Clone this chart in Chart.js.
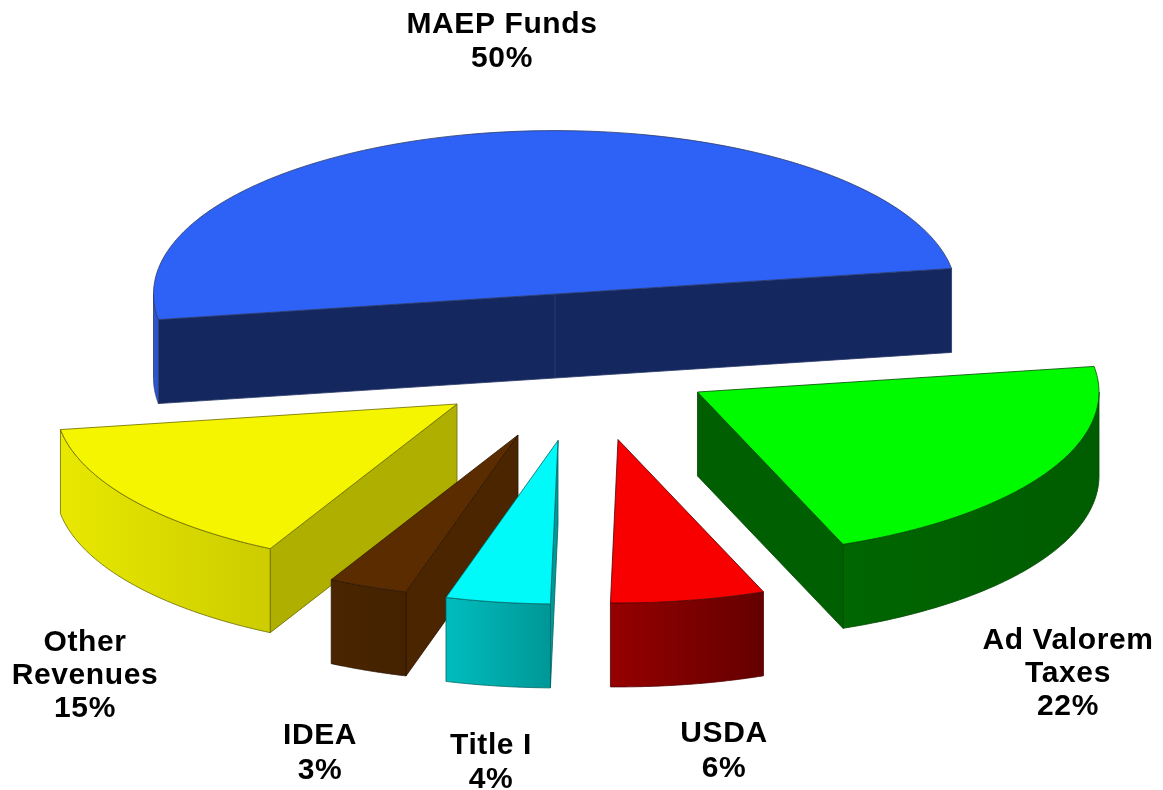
<!DOCTYPE html>
<html>
<head>
<meta charset="utf-8">
<title>Revenue sources</title>
<script src="https://cdn.jsdelivr.net/npm/chart.js@4"></script>
<style>
  html, body { margin: 0; padding: 0; background: #fff; }
  canvas { display: block; }
</style>
</head>
<body>
<canvas id="myChart" width="1163" height="790"></canvas>
<script>
// data
const categories = ["MAEP Funds", "Ad Valorem Taxes", "USDA", "Title I", "IDEA", "Other Revenues"];
const shares = [50, 21.6, 6.2, 4.2, 3.2, 14.8];
const shareLabels = ["50%", "22%", "6%", "4%", "3%", "15%"];

// styles, same order as the categories
const topColors = ["#2e62f6", "#00fb00", "#f90000", "#00f9f9", "#5b2c00", "#f5f500"];
const faceColors = ["#14275f", "#005f00", "#650000", "#009999", "#4a2500", "#afaf00"];
const rimFrom = ["#2a55cf", "#006600", "#960000", "#00bdbd", "#4a2500", "#e8e800"];
const rimTo = ["#2a55cf", "#005c00", "#640000", "#009797", "#442200", "#cccc00"];
const lineColors = ["#2a3a6a", "#004800", "#500000", "#006666", "#2a1500", "#6b6b00"];

// exploded layout: how far each slice is pulled from the middle of the pie
const shiftX = [-26.5, 116, 36.5, -23.5, -63.5, -124.5];
const shiftY = [-101, -3, 44.5, 45.5, 40, 9];
const paintOrder = [0, 1, 5, 4, 3, 2];
const squash = 0.407;
const depth = 84;

// label anchors (centre x, first baseline y) and the line breaks of each label
const labelLines = [["MAEP Funds"], ["Ad Valorem", "Taxes"], ["USDA"], ["Title I"], ["IDEA"], ["Other", "Revenues"]];
const labelX = [502, 1068, 724, 491, 320, 85];
const labelY = [33, 649, 742, 754, 744, 651];
const labelGap = [34, 33, 35, 34, 35, 33];

function pointOf(arc, i, angle) {
  return {
    x: arc.x + shiftX[i] + arc.outerRadius * Math.cos(angle),
    y: arc.y + shiftY[i] + arc.outerRadius * squash * Math.sin(angle)
  };
}

function drawCutFace(ctx, arc, i, angle) {
  const apex = { x: arc.x + shiftX[i], y: arc.y + shiftY[i] };
  const edge = pointOf(arc, i, angle);
  ctx.beginPath();
  ctx.moveTo(apex.x, apex.y);
  ctx.lineTo(edge.x, edge.y);
  ctx.lineTo(edge.x, edge.y + depth);
  ctx.lineTo(apex.x, apex.y + depth);
  ctx.closePath();
  ctx.fillStyle = faceColors[i];
  ctx.fill();
  ctx.stroke();
}

function drawRim(ctx, arc, i, from, to) {
  const steps = 60;
  const a = pointOf(arc, i, from);
  const b = pointOf(arc, i, to);
  const grad = ctx.createLinearGradient(Math.min(a.x, b.x), 0, Math.max(a.x, b.x), 0);
  grad.addColorStop(0, rimFrom[i]);
  grad.addColorStop(1, rimTo[i]);
  ctx.beginPath();
  for (let s = 0; s <= steps; s++) {
    const p = pointOf(arc, i, from + (to - from) * s / steps);
    ctx.lineTo(p.x, p.y);
  }
  for (let s = steps; s >= 0; s--) {
    const p = pointOf(arc, i, from + (to - from) * s / steps);
    ctx.lineTo(p.x, p.y + depth);
  }
  ctx.closePath();
  ctx.fillStyle = grad;
  ctx.fill();
  ctx.stroke();
}

function outlineTop(ctx, arc, i) {
  const apex = { x: arc.x + shiftX[i], y: arc.y + shiftY[i] };
  const steps = 120;
  ctx.beginPath();
  ctx.moveTo(apex.x, apex.y);
  for (let s = 0; s <= steps; s++) {
    const p = pointOf(arc, i, arc.startAngle + (arc.endAngle - arc.startAngle) * s / steps);
    ctx.lineTo(p.x, p.y);
  }
  ctx.closePath();
  ctx.stroke();
}

const pie3d = {
  id: "pie3d",
  beforeDatasetDraw(chart, args) {
    const ctx = chart.ctx;
    const arcs = args.meta.data;
    paintOrder.forEach(i => {
      const arc = arcs[i];
      ctx.save();
      ctx.lineWidth = 0.8;
      ctx.lineJoin = "round";
      ctx.strokeStyle = lineColors[i];

      // side walls the viewer can see
      if (Math.cos(arc.startAngle) < 0) drawCutFace(ctx, arc, i, arc.startAngle);
      if (Math.cos(arc.endAngle) > 0) drawCutFace(ctx, arc, i, arc.endAngle);
      [-1, 0, 1].forEach(turn => {
        const lo = Math.max(arc.startAngle + turn * 2 * Math.PI, 0);
        const hi = Math.min(arc.endAngle + turn * 2 * Math.PI, Math.PI);
        if (hi > lo) drawRim(ctx, arc, i, lo, hi);
      });

      // the slice itself, drawn by the library on a squashed plane
      ctx.save();
      ctx.translate(arc.x + shiftX[i], arc.y + shiftY[i]);
      ctx.scale(1, squash);
      ctx.translate(-arc.x, -arc.y);
      arc.draw(ctx);
      ctx.restore();
      outlineTop(ctx, arc, i);
      ctx.restore();
    });
    return false;
  },
  afterDraw(chart) {
    const ctx = chart.ctx;
    ctx.save();
    ctx.font = "bold 30px 'Liberation Sans', Arial, sans-serif";
    ctx.letterSpacing = "0.6px";
    ctx.fillStyle = "#000";
    ctx.textAlign = "center";
    ctx.textBaseline = "alphabetic";
    categories.forEach((name, i) => {
      const lines = labelLines[i].concat(shareLabels[i]);
      lines.forEach((t, n) => ctx.fillText(t, labelX[i], labelY[i] + n * labelGap[i]));
    });
    ctx.restore();
  }
};

new Chart("myChart", {
  type: "pie",
  data: {
    labels: categories,
    datasets: [{
      data: shares,
      backgroundColor: topColors,
      borderWidth: 0
    }]
  },
  options: {
    responsive: false,
    animation: false,
    radius: 401.5,
    rotation: -99,
    plugins: {
      legend: { display: false },
      tooltip: { enabled: false }
    }
  },
  plugins: [pie3d]
});
</script>
</body>
</html>
